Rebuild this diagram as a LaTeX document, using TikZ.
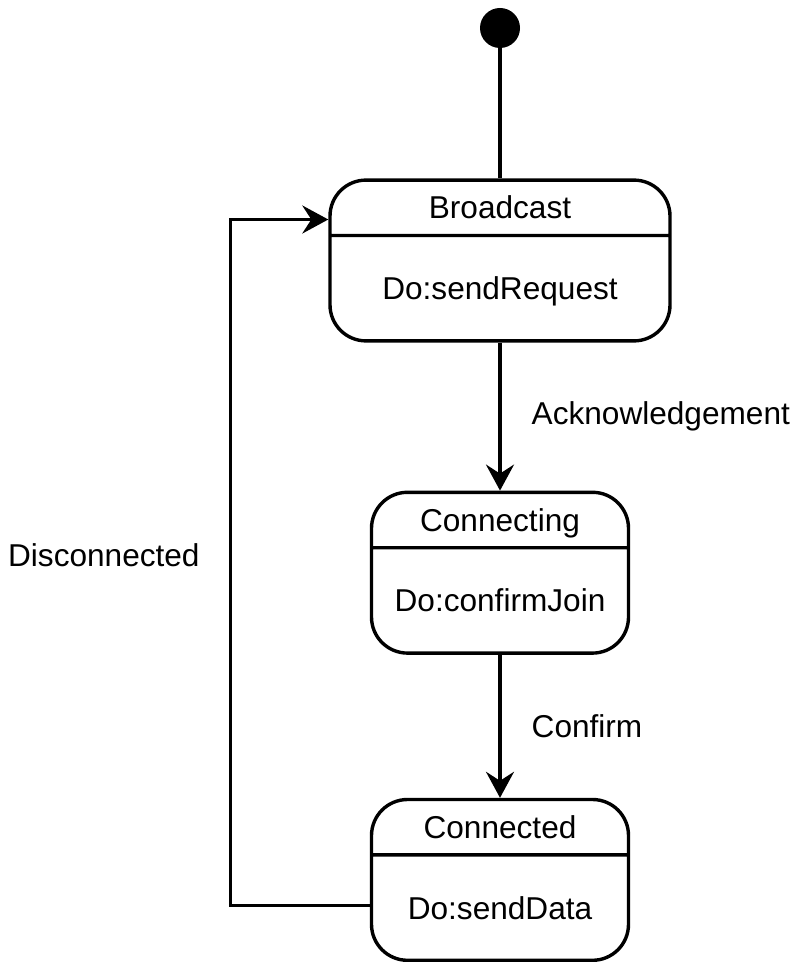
\documentclass[tikz,border=0pt]{standalone}
\usepackage{fontspec}
\setmainfont{Liberation Sans}
\usetikzlibrary{arrows.meta,positioning,shapes.multipart}

\newcommand{\headstrut}{\rule[-7.4pt]{0pt}{26pt}}
\newcommand{\bodystrut}{\rule[-19.8pt]{0pt}{51pt}}

\begin{document}
\begin{tikzpicture}[
  font=\fontsize{15.8}{19}\selectfont,
  node distance=74pt,
  startdot/.style={circle, fill=black, minimum size=20pt, inner sep=0pt},
  state/.style={
    draw=black,
    rectangle split,
    rectangle split parts=2,
    rounded corners=18pt,
    line width=1.7pt,
    align=center,
    inner xsep=0pt,
    inner ysep=0pt,
    text width=128.5pt
  },
  arrow/.style={-{Stealth[length=13pt,width=14pt,inset=4.5pt]}, line width=1.7pt, draw=black},
  lbl/.style={inner sep=0pt}
]

\useasboundingbox (0,0) rectangle (398.5pt,-481pt);

\node[startdot] (init) at (250pt,-14pt) {};
\node[state, text width=170pt, below=65pt of init] (bc) {\headstrut Broadcast\nodepart{two}\bodystrut Do:sendRequest};
\node[state, below=of bc] (cg) {\headstrut Connecting\nodepart{two}\bodystrut Do:confirmJoin};
\node[state, below=71.5pt of cg] (cd) {\headstrut Connected\nodepart{two}\bodystrut Do:sendData};

\coordinate (bcin) at ([yshift=20.5pt]bc.west);

\draw[line width=1.7pt] (init) -- (bc.north);
\draw[arrow] (bc.south) -- node[lbl, right=15pt] (ack) {Acknowledgement} (cg.north);
\draw[arrow] (cg.south) -- node[lbl, right=15pt] (conf) {Confirm} (cd.north);
\draw[arrow] ([yshift=-12.75pt]cd.west) -| node[lbl, pos=0.755, left=14.5pt] (disc) {Disconnected} ([xshift=-49pt]bcin) -- (bcin);

\end{tikzpicture}
\end{document}
